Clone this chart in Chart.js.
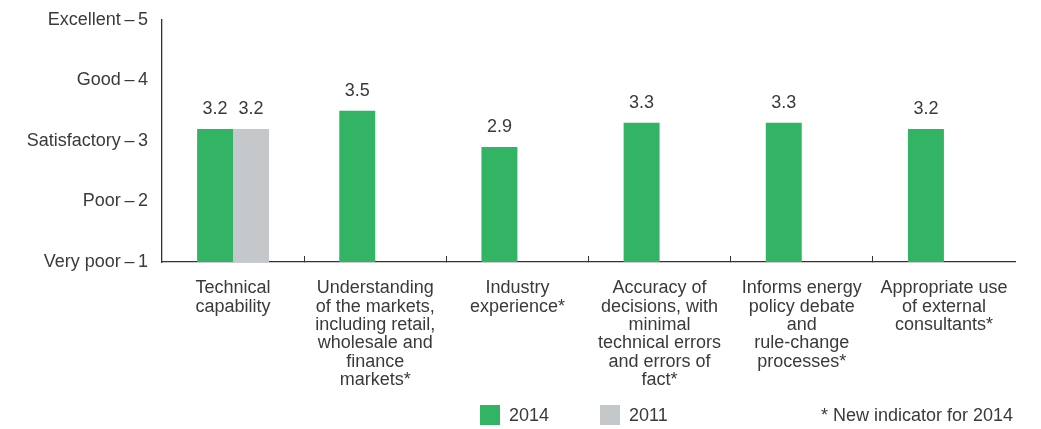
<!DOCTYPE html>
<html>
<head>
<meta charset="utf-8">
<title>Stakeholder ratings</title>
<script src="https://cdn.jsdelivr.net/npm/chart.js@4.4.1/dist/chart.umd.min.js"></script>
<style>
  html, body { margin: 0; padding: 0; background: #ffffff; }
  #wrap { width: 1041px; height: 429px; position: relative; }
</style>
</head>
<body>
<div id="wrap"><canvas id="ratingChart"></canvas></div>
<script>
// categories (multi-line axis labels)
const categoryLabels = [
  ["Technical", "capability"],
  ["Understanding", "of the markets,", "including retail,", "wholesale and", "finance", "markets*"],
  ["Industry", "experience*"],
  ["Accuracy of", "decisions, with", "minimal", "technical errors", "and errors of", "fact*"],
  ["Informs energy", "policy debate", "and", "rule-change", "processes*"],
  ["Appropriate use", "of external", "consultants*"]
];

// average ratings per survey year (2011 only asked the first indicator)
const ratings2014 = [3.2, 3.5, 2.9, 3.3, 3.3, 3.2];
const ratings2011 = [3.2, null, null, null, null, null];

// rating scale labels for ticks 1..5
const scaleLabels = ["Very poor", "Poor", "Satisfactory", "Good", "Excellent"];

const footnoteText = "* New indicator for 2014";

const green = '#32b464';
const grey = '#c5c8cb';
const textColor = '#3a3a3a';
const axisColor = '#333333';
const fontFamily = "'Liberation Sans', Arial, Helvetica, sans-serif";
const fontSize = 18;

Chart.defaults.font.family = fontFamily;
Chart.defaults.font.size = fontSize;
Chart.defaults.color = textColor;

// writes the value above each bar
const valueLabels = {
  id: 'valueLabels',
  afterDatasetsDraw(chart) {
    const ctx = chart.ctx;
    ctx.save();
    ctx.font = fontSize + 'px ' + fontFamily;
    ctx.fillStyle = textColor;
    ctx.textAlign = 'center';
    ctx.textBaseline = 'alphabetic';
    chart.data.datasets.forEach((ds, di) => {
      const meta = chart.getDatasetMeta(di);
      meta.data.forEach((bar, i) => {
        const v = ds.data[i];
        if (v === null || v === undefined) return;
        ctx.fillText(v.toFixed(1), bar.x, bar.y - 15);
      });
    });
    ctx.restore();
  }
};

// legend boxes along the bottom plus the footnote on the right
const bottomLegend = {
  id: 'bottomLegend',
  afterDraw(chart) {
    const ctx = chart.ctx;
    const startX = [480, 600];
    ctx.save();
    ctx.font = fontSize + 'px ' + fontFamily;
    ctx.textBaseline = 'alphabetic';
    chart.data.datasets.forEach((ds, di) => {
      const x = startX[di];
      ctx.fillStyle = ds.backgroundColor;
      ctx.fillRect(x, 405, 20, 20);
      ctx.fillStyle = textColor;
      ctx.textAlign = 'left';
      ctx.fillText(ds.label, x + 29, 421);
    });
    ctx.textAlign = 'right';
    ctx.fillText(footnoteText, 1013, 421);
    ctx.restore();
  }
};

const ctx = document.getElementById('ratingChart').getContext('2d');
new Chart(ctx, {
  type: 'bar',
  data: {
    labels: categoryLabels,
    datasets: [
      {
        label: '2014',
        data: ratings2014,
        backgroundColor: green,
        borderWidth: 0,
        categoryPercentage: 0.506,
        barPercentage: 1.0
      },
      {
        label: '2011',
        data: ratings2011,
        backgroundColor: grey,
        borderWidth: 0,
        categoryPercentage: 0.506,
        barPercentage: 1.0
      }
    ]
  },
  options: {
    responsive: true,
    maintainAspectRatio: false,
    animation: false,
    layout: {
      padding: { left: 0, right: 26, top: 20, bottom: 42 }
    },
    scales: {
      x: {
        grid: {
          display: true,
          drawOnChartArea: false,
          drawTicks: true,
          tickLength: -6,
          color: c => (c.type === 'tick' ? axisColor : 'rgba(0,0,0,0)'),
          lineWidth: 1
        },
        border: { display: true, color: axisColor, width: 1.3 },
        ticks: {
          padding: 23,
          maxRotation: 0,
          autoSkip: false,
          color: textColor,
          font: { size: fontSize, lineHeight: 1.02 }
        },
        afterFit: scale => { scale.height = 125; }
      },
      y: {
        min: 1,
        max: 5,
        // hidden tick marks only reserve the gap between labels and axis
        grid: { display: false, drawTicks: true, tickLength: 14 },
        border: { display: true, color: axisColor, width: 1.3 },
        ticks: {
          stepSize: 1,
          padding: 0,
          color: textColor,
          font: { size: fontSize },
          callback: v => scaleLabels[v - 1] + '\u2009\u2013\u2009' + v
        },
        afterFit: scale => { scale.width = 162; }
      }
    },
    plugins: {
      legend: { display: false },
      tooltip: { enabled: false }
    }
  },
  plugins: [valueLabels, bottomLegend]
});
</script>
</body>
</html>
